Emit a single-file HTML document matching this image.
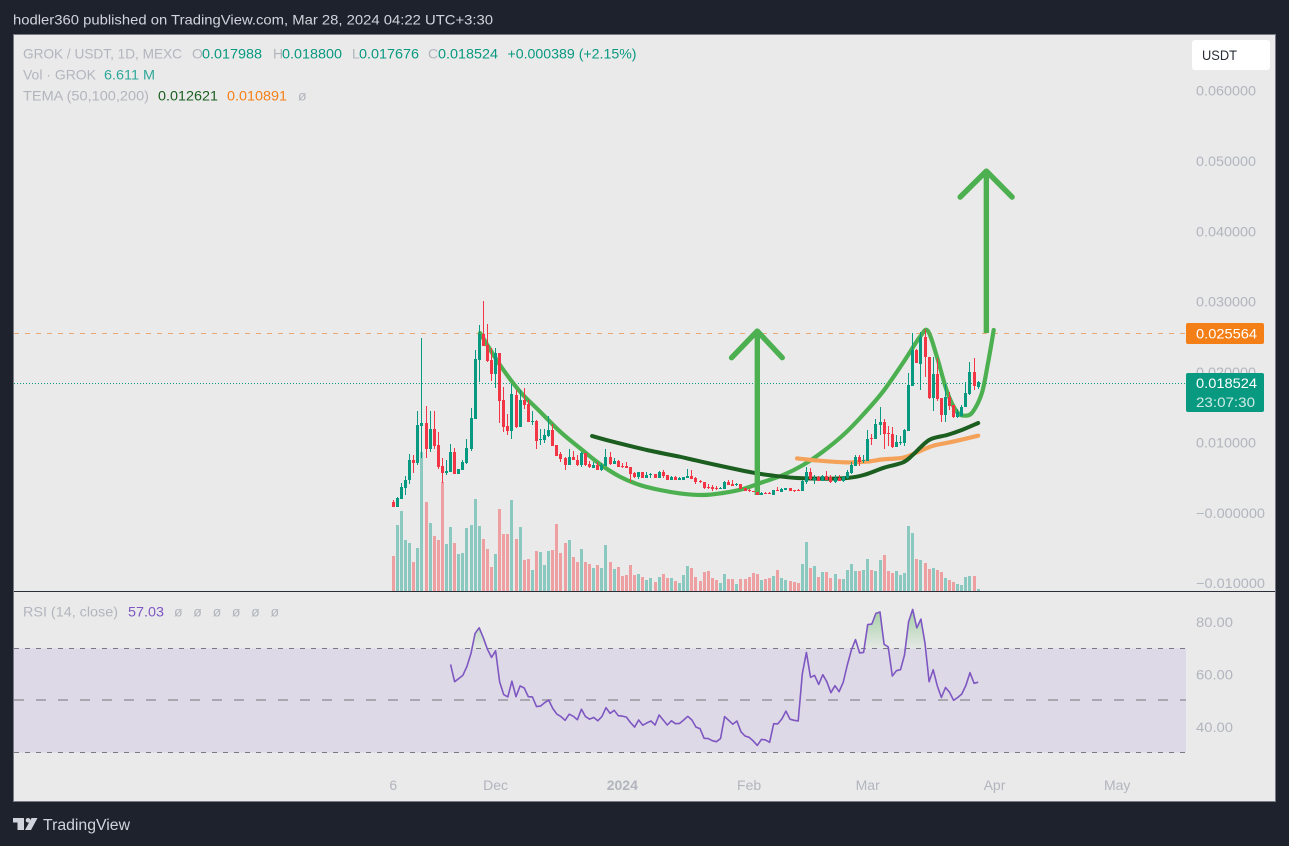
<!DOCTYPE html>
<html lang="en">
<head>
<meta charset="utf-8">
<title>GROK / USDT chart</title>
<style>
html,body{margin:0;padding:0;background:#1e222d;}
svg{display:block;font-family:"Liberation Sans",sans-serif;}
text{font-size:14px;}
</style>
</head>
<body>
<svg id="chart" xmlns="http://www.w3.org/2000/svg" width="1289" height="846" viewBox="0 0 1289 846">
  <defs>
    <linearGradient id="obGrad" gradientUnits="userSpaceOnUse" x1="0" y1="612" x2="0" y2="648.5">
      <stop offset="0" stop-color="#4caf50" stop-opacity="0.42"/>
      <stop offset="1" stop-color="#4caf50" stop-opacity="0.03"/>
    </linearGradient>
    <clipPath id="obClip"><rect x="13" y="600" width="1173" height="48.5"/></clipPath>
    <clipPath id="paneClip"><rect x="14" y="36" width="1172" height="555"/></clipPath>
  </defs>
  <rect x="0" y="0" width="1289" height="846" fill="#1e222d"/>
  <text x="13" y="24.5" fill="#d1d4dc" textLength="480" lengthAdjust="spacingAndGlyphs">hodler360 published on TradingView.com, Mar 28, 2024 04:22 UTC+3:30</text>
  <rect x="13.5" y="34.5" width="1262" height="767" fill="#eaeaea" stroke="#787b86" stroke-width="1"/>

  <rect x="14" y="648.5" width="1172" height="104" fill="#ded9e6"/>
  <line x1="14" x2="1186" y1="648.5" y2="648.5" stroke="#787b86" stroke-width="1" stroke-dasharray="5 6" shape-rendering="crispEdges"/>
  <line x1="14" x2="1186" y1="700" y2="700" stroke="#a9a8b0" stroke-width="2" stroke-dasharray="10 12" shape-rendering="crispEdges"/>
  <line x1="14" x2="1186" y1="752.5" y2="752.5" stroke="#787b86" stroke-width="1" stroke-dasharray="5 6" shape-rendering="crispEdges"/>

  <g id="volumeLayer"></g>
  <line x1="14" x2="1186" y1="333.5" y2="333.5" stroke="#e8a873" stroke-width="1" stroke-dasharray="5 6" shape-rendering="crispEdges"/>
  <line x1="14" x2="1186" y1="383.5" y2="383.5" stroke="#089981" stroke-width="1" stroke-dasharray="1 2" shape-rendering="crispEdges"/>
  <g id="drawingLayer"></g>
  <g id="candleLayer" clip-path="url(#paneClip)"></g>

  <g id="priceAxis"></g>
  <g id="rsiAxis"></g>
  <g id="timeAxis"></g>
  <g id="rsiLayer"></g>

  <line x1="14" x2="1275" y1="591.5" y2="591.5" stroke="#2a2e39" stroke-width="1"/>

  <rect x="1192" y="40" width="78" height="30" rx="3" fill="#ffffff"/>
  <text x="1202" y="60" fill="#2a2e39" textLength="35" lengthAdjust="spacingAndGlyphs">USDT</text>

  <rect x="1186" y="323" width="78" height="21" rx="2" fill="#f57f17"/>
  <text x="1196" y="338.5" fill="#ffffff" textLength="61" lengthAdjust="spacingAndGlyphs">0.025564</text>
  <rect x="1186" y="373" width="78" height="39" rx="2" fill="#089981"/>
  <text x="1196" y="388" fill="#ffffff" textLength="61" lengthAdjust="spacingAndGlyphs">0.018524</text>
  <text x="1196" y="407" fill="#cfeae5" textLength="59" lengthAdjust="spacingAndGlyphs">23:07:30</text>

  <g>
    <text x="23" y="58.5" fill="#b2b5be" textLength="159" lengthAdjust="spacingAndGlyphs">GROK / USDT, 1D, MEXC</text>
    <text x="192" y="58.5" fill="#b2b5be">O</text>
    <text x="202" y="58.5" fill="#089981" textLength="60" lengthAdjust="spacingAndGlyphs">0.017988</text>
    <text x="273" y="58.5" fill="#b2b5be">H</text>
    <text x="282" y="58.5" fill="#089981" textLength="60" lengthAdjust="spacingAndGlyphs">0.018800</text>
    <text x="352" y="58.5" fill="#b2b5be">L</text>
    <text x="359" y="58.5" fill="#089981" textLength="60" lengthAdjust="spacingAndGlyphs">0.017676</text>
    <text x="428" y="58.5" fill="#b2b5be">C</text>
    <text x="438" y="58.5" fill="#089981" textLength="60" lengthAdjust="spacingAndGlyphs">0.018524</text>
    <text x="507.5" y="58.5" fill="#089981" textLength="129" lengthAdjust="spacingAndGlyphs">+0.000389 (+2.15%)</text>
    <text x="23" y="79.5" fill="#b2b5be" textLength="73" lengthAdjust="spacingAndGlyphs">Vol · GROK</text>
    <text x="104" y="79.5" fill="#2fa89a" textLength="51" lengthAdjust="spacingAndGlyphs">6.611 M</text>
    <text x="23" y="100.5" fill="#b2b5be" textLength="126" lengthAdjust="spacingAndGlyphs">TEMA (50,100,200)</text>
    <text x="158" y="100.5" fill="#1b5e20" textLength="60" lengthAdjust="spacingAndGlyphs">0.012621</text>
    <text x="227" y="100.5" fill="#f57f17" textLength="60" lengthAdjust="spacingAndGlyphs">0.010891</text>
    <text x="298" y="100.5" fill="#b2b5be">ø</text>
  </g>

  <g>
    <text x="23" y="616.5" fill="#b2b5be" textLength="95" lengthAdjust="spacingAndGlyphs">RSI (14, close)</text>
    <text x="128" y="616.5" fill="#7e57c2" textLength="36" lengthAdjust="spacingAndGlyphs">57.03</text>
    <text x="174" y="616.5" fill="#b2b5be" textLength="105" lengthAdjust="spacing">ø ø ø ø ø ø</text>
  </g>

  <g>
    <polygon points="13,818 24,818 24,830 17.5,830 17.5,822.5 13,822.5" fill="#d1d4dc"/>
    <circle cx="28" cy="820.3" r="2.3" fill="#d1d4dc"/>
    <polygon points="31.5,818 37.5,818 31,830 25,830" fill="#d1d4dc"/>
    <text x="43" y="830" fill="#d1d4dc" style="font-size:15.5px" textLength="87" lengthAdjust="spacingAndGlyphs">TradingView</text>
  </g>
</svg>

<script>
// Daily bars, bar 0 = 6 Nov 2023. Prices are in chart ticks (1 tick = 0.01/211 USDT).
const TICK = 0.01 / 211;
const opens = [32,17,41,74,98,158,149,260,269,191,
251,203,140,119,122,182,116,128,149,191,
281,458,536,503,458,416,479,338,260,245,
353,257,338,326,272,275,218,218,230,248,
203,176,164,143,167,158,143,179,146,134,
143,128,140,167,146,155,140,140,137,119,
107,122,104,113,116,104,122,113,98,107,
98,98,104,110,104,95,92,77,77,74,
71,71,92,86,83,86,74,68,65,62,
53,59,59,53,68,62,68,74,68,68,
65,92,122,98,107,95,110,107,92,104,
95,104,119,140,167,155,155,224,221,263,
272,239,236,197,209,209,245,380,488,446,
527,467,343,416,344,293,347,323,287,290,
317,356,422,377];
const highs = [38,46,89,110,176,173,305,524,320,305,
305,242,164,158,206,194,131,158,221,314,
488,563,635,566,494,494,479,377,296,386,
368,368,374,338,305,278,251,251,290,266,
203,182,167,191,185,173,182,179,155,152,
152,149,191,182,164,158,149,152,137,122,
122,122,122,119,116,125,128,113,110,110,
107,107,131,128,107,98,92,86,83,80,
77,95,98,98,89,86,74,71,65,62,
62,62,62,68,77,74,74,74,68,71,
98,137,134,113,110,113,125,113,113,113,
110,128,152,173,173,173,248,236,281,317,
281,260,257,233,230,251,419,539,491,542,
551,467,467,464,344,386,362,323,311,323,
392,452,464,395];
const lows = [17,17,41,53,86,119,143,164,164,182,
191,131,89,113,122,116,116,128,146,185,
281,392,500,452,395,374,269,242,233,221,
254,257,311,272,263,191,203,209,227,200,
170,152,128,143,158,140,137,140,134,134,
128,125,140,143,146,137,134,134,92,104,
101,104,104,104,104,104,104,98,98,98,
98,98,104,101,86,89,71,71,65,68,
71,71,83,80,80,71,65,62,62,53,
53,56,56,53,65,62,68,65,62,65,
65,86,98,86,95,95,98,89,89,95,
92,101,116,140,140,149,155,203,221,233,
191,200,194,197,203,200,245,380,449,368,
407,340,305,335,272,272,308,284,284,287,
317,353,368,371];
const closes = [17,43,77,98,158,149,263,269,191,251,
200,137,119,125,182,116,131,152,194,284,
461,536,500,455,416,479,335,257,245,356,
257,338,323,272,275,215,221,233,248,200,
170,161,143,167,158,143,179,143,137,143,
128,143,167,146,155,137,137,134,116,107,
122,104,113,116,104,122,110,98,107,98,
104,107,110,101,92,92,74,74,71,71,
74,92,83,80,86,71,65,65,62,53,
59,56,56,68,65,71,74,65,65,65,
95,122,101,104,95,110,98,92,104,95,
107,122,143,167,152,158,221,221,266,272,
236,236,197,212,212,248,383,488,449,527,
467,343,416,340,293,347,320,287,302,317,
359,422,380,391];
// Volume in units of roughly 1.1M
const volumes = [105,198,240,153,144,87,129,417,267,204,
165,153,327,141,192,144,111,114,189,198,
276,195,156,126,72,111,246,171,171,273,
156,192,93,96,63,120,117,78,120,123,
201,114,144,153,102,87,126,87,81,69,
78,69,138,87,66,72,45,48,78,48,
51,42,33,39,27,42,51,39,39,30,
24,48,75,69,42,30,57,60,39,33,
24,51,36,36,21,36,36,42,54,51,
33,36,39,45,63,39,33,30,27,24,
81,147,69,75,42,57,57,39,51,36,
36,63,81,60,60,63,96,63,60,93,
108,60,54,60,48,54,195,174,96,93,
84,66,69,63,57,39,33,27,21,18,
42,45,45,6];
// RSI(14), first value belongs to bar 14
const rsiStartBar = 14;
const rsiValues = [63.8,57.2,58.4,59.6,63,68,75.7,77.8,74,69.6,
66.5,69,57.2,52.3,51.4,57.4,51.5,55.6,54.8,51.5,
51.4,47.7,47.9,49.2,50.2,47,44.8,43.9,42.5,44.8,
44,42.7,46.7,43.9,42.9,43.6,42.3,43.9,47.3,45.1,
46.3,44.25,44.1,43.7,41.6,39.9,42.6,40.6,41.5,42.2,
40.7,44.5,42.6,40.7,42.3,41.2,41.3,42.6,44,42.6,
39.9,39.3,35.6,35.5,34.7,34.3,35.5,43.9,42.5,41,
42.2,38.1,36.5,36,34.6,32.9,35.2,35,34.1,41.2,
41.1,43,46,42.9,42.5,42.2,60.2,68.4,58.9,59.6,
56.2,59.9,57.2,53,55.7,53.4,57,63.6,69.3,73.3,
68.2,68.4,79,79.2,83.3,83.8,71.5,70.5,59.4,61.4,
61.8,67.4,80.1,84.8,77.8,81.1,71.9,57.2,61.8,55.6,
51.2,55,53.2,50.1,51.2,52.5,55.8,60.7,56.6,57.03];
// Axis tick data
const priceTickValues = [0.06,0.05,0.04,0.03,0.02,0.01,-0.00001,-0.01];
const priceTickLabels = ["0.060000","0.050000","0.040000","0.030000","0.020000","0.010000","−0.000000","−0.010000"];
const rsiTickValues = [80,60,40];
const rsiTickLabels = ["80.00","60.00","40.00"];
const timeTickBars = [0,25,56,87,116,147,177];
const timeTickLabels = ["6","Dec","2024","Feb","Mar","Apr","May"];
// Hand-drawn annotations, anchored in (bar, tick) chart coordinates
const cupBars = [21.2,26.1,31,35.9,40.8,45.6,50.5,55.4,60.3,65.2,70.1,75.7,80.6,85.5,90.4,95.3,100.2,105,110,114.8,119.7,124.6,128.8,130.7,132.9,135.4,137.8,139.8,141.7,143.9,145.4,146.8];
const cupTicks = [539,443,363,303,243,194,146,108,83,68,58,53,59,71,92,113,143,183,233,293,363,449,528,545,468,363,303,291,303,359,449,548];
const darkLineBars = [48.6,53.7,62,70,72.5,79,88,93,98.7,106,111,115,120,124.6,127,131,135.4,139,143];
const darkLineTicks = [230,213,188,168,161,143,120,111,104,102,104,113,135,151,173,218,233,248,269];
const orangeLineBars = [98.7,104.2,110.8,115.7,119.7,124.6,128,132,136.8,143];
const orangeLineTicks = [163,156,151,153,160,165,181,201,213,231];
const arrow1Bars = [89,89,82.7,89,95.1];
const arrow1Ticks = [53,545,465,545,465];
const arrow2Bars = [145,145,138.6,145,151.3];
const arrow2Ticks = [539,1025,947,1025,947];

const SVG_NS = "http://www.w3.org/2000/svg";
const UP = "#089981", DOWN = "#f23645";
function xBar(i){ return 393.3 + 4.09 * i; }
function yPrice(p){ return 512.7 - p * 7033; }
function yTick(t){ return yPrice(t * TICK); }
function yRsi(v){ return 622 + (80 - v) * 2.62; }
function yVol(v){ return 591 - v / 3; }
function make(tag, attrs, parent){
  const el = document.createElementNS(SVG_NS, tag);
  for (const k in attrs) el.setAttribute(k, attrs[k]);
  parent.appendChild(el);
  return el;
}
function smoothPath(pts){
  let d = "M" + pts[0][0].toFixed(1) + " " + pts[0][1].toFixed(1);
  for (let i = 0; i < pts.length - 1; i++){
    const p0 = pts[Math.max(i - 1, 0)], p1 = pts[i], p2 = pts[i + 1], p3 = pts[Math.min(i + 2, pts.length - 1)];
    const c1x = p1[0] + (p2[0] - p0[0]) / 6, c1y = p1[1] + (p2[1] - p0[1]) / 6;
    const c2x = p2[0] - (p3[0] - p1[0]) / 6, c2y = p2[1] - (p3[1] - p1[1]) / 6;
    d += "C" + c1x.toFixed(1) + " " + c1y.toFixed(1) + " " + c2x.toFixed(1) + " " + c2y.toFixed(1) + " " + p2[0].toFixed(1) + " " + p2[1].toFixed(1);
  }
  return d;
}
function toPoints(bars, ticks){ return bars.map((b, i) => [xBar(b), yTick(ticks[i])]); }

// Volume
const volumeLayer = document.getElementById("volumeLayer");
volumes.forEach((v, i) => {
  const top = yVol(v);
  const up = closes[i] >= opens[i];
  const bar = make("rect", {x: Math.round(xBar(i) - 1.5), y: top.toFixed(1), width: 3, height: (591 - top).toFixed(1), fill: up ? "#8ac8c0" : "#ee9fa1", "shape-rendering": "crispEdges"}, volumeLayer);
  
  
});

// Drawings
const drawingLayer = document.getElementById("drawingLayer");
const cupPath = make("path", {d: smoothPath(toPoints(cupBars, cupTicks)), fill: "none", stroke: "#4caf50", "stroke-width": 4.2, "stroke-linecap": "round", "stroke-linejoin": "round"}, drawingLayer);


const orangePath = make("path", {d: smoothPath(toPoints(orangeLineBars, orangeLineTicks)), fill: "none", stroke: "#f4a25a", "stroke-width": 4.2, "stroke-linecap": "round"}, drawingLayer);


const darkPath = make("path", {d: smoothPath(toPoints(darkLineBars, darkLineTicks)), fill: "none", stroke: "#1b5e20", "stroke-width": 4, "stroke-linecap": "round"}, drawingLayer);


const arrow1Shaft = make("line", {x1: xBar(arrow1Bars[0]), y1: yTick(arrow1Ticks[0]), x2: xBar(arrow1Bars[1]), y2: yTick(arrow1Ticks[1]), stroke: "#4caf50", "stroke-width": 5.4}, drawingLayer);


const arrow1Head = make("polyline", {points: toPoints(arrow1Bars.slice(2), arrow1Ticks.slice(2)).map(p => p.join(",")).join(" "), fill: "none", stroke: "#4caf50", "stroke-width": 5.4, "stroke-linecap": "round", "stroke-linejoin": "round"}, drawingLayer);


const arrow2Shaft = make("line", {x1: xBar(arrow2Bars[0]), y1: yTick(arrow2Ticks[0]), x2: xBar(arrow2Bars[1]), y2: yTick(arrow2Ticks[1]), stroke: "#4caf50", "stroke-width": 5.4}, drawingLayer);


const arrow2Head = make("polyline", {points: toPoints(arrow2Bars.slice(2), arrow2Ticks.slice(2)).map(p => p.join(",")).join(" "), fill: "none", stroke: "#4caf50", "stroke-width": 5.4, "stroke-linecap": "round", "stroke-linejoin": "round"}, drawingLayer);



// Candles
const candleLayer = document.getElementById("candleLayer");
opens.forEach((o, i) => {
  const c = closes[i];
  const color = c >= o ? UP : DOWN;
  const left = Math.round(xBar(i) - 1.5);
  const wick = make("rect", {x: left + 1, y: Math.round(yTick(highs[i])), width: 1, height: Math.round(yTick(lows[i]) - yTick(highs[i])), fill: color, "shape-rendering": "crispEdges"}, candleLayer);
  
  
  const top = Math.round(yTick(Math.max(o, c)));
  const body = make("rect", {x: left, y: top, width: 3, height: Math.max(1, Math.round(yTick(Math.min(o, c))) - top), fill: color, "shape-rendering": "crispEdges"}, candleLayer);
  
  
});

// RSI
const rsiLayer = document.getElementById("rsiLayer");
const rsiPts = rsiValues.map((v, i) => [xBar(rsiStartBar + i).toFixed(1), yRsi(v).toFixed(1)]);
const firstX = rsiPts[0][0], lastX = rsiPts[rsiPts.length - 1][0];
const rsiFill = make("polygon", {points: firstX + ",648.5 " + rsiPts.map(p => p.join(",")).join(" ") + " " + lastX + ",648.5", fill: "url(#obGrad)", "clip-path": "url(#obClip)"}, rsiLayer);


const rsiLine = make("polyline", {points: rsiPts.map(p => p.join(",")).join(" "), fill: "none", stroke: "#7e57c2", "stroke-width": 1.6, "stroke-linejoin": "round"}, rsiLayer);



// Axes
const priceAxis = document.getElementById("priceAxis");
priceTickValues.forEach((v, i) => {
  const label = priceTickLabels[i];
  const t = make("text", {x: 1196, y: (yPrice(v) + 5).toFixed(1), fill: "#b2b5be", textLength: label.length > 8 ? 69 : 60, lengthAdjust: "spacingAndGlyphs"}, priceAxis);
  
  
  t.textContent = label;
});
const rsiAxis = document.getElementById("rsiAxis");
rsiTickValues.forEach((v, i) => {
  const t = make("text", {x: 1196, y: (yRsi(v) + 5).toFixed(1), fill: "#b2b5be", textLength: 37, lengthAdjust: "spacingAndGlyphs"}, rsiAxis);
  
  
  t.textContent = rsiTickLabels[i];
});
const timeAxis = document.getElementById("timeAxis");
timeTickBars.forEach((b, i) => {
  const label = timeTickLabels[i];
  const t = make("text", {x: xBar(b).toFixed(1), y: 790, fill: "#b2b5be", "text-anchor": "middle", "font-weight": label === "2024" ? "700" : "400"}, timeAxis);
  
  
  t.textContent = label;
});
</script>
</body>
</html>
